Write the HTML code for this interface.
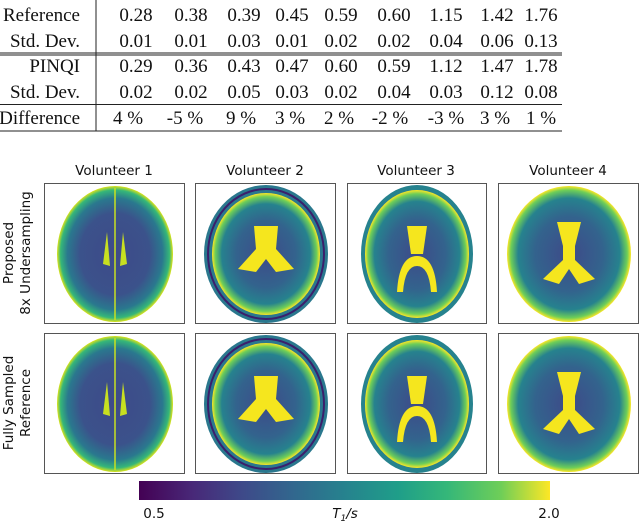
<!DOCTYPE html>
<html><head><style>
body{margin:0;background:#fff;width:640px;height:525px;overflow:hidden;position:relative}
svg{position:absolute;left:0;top:0}
</style></head><body>
<svg width="640" height="525" viewBox="0 0 640 525">
<defs>
<radialGradient id="br" cx="50%" cy="50%" r="50%">
<stop offset="0" stop-color="#3e4a89"/><stop offset="0.6" stop-color="#3b528b"/>
<stop offset="0.82" stop-color="#2a788e"/><stop offset="0.94" stop-color="#35b779"/><stop offset="1" stop-color="#dde318"/>
</radialGradient>
<radialGradient id="br2" cx="50%" cy="50%" r="50%">
<stop offset="0" stop-color="#3e4a89"/><stop offset="0.55" stop-color="#33638d"/>
<stop offset="0.82" stop-color="#26828e"/><stop offset="0.94" stop-color="#6ece58"/><stop offset="1" stop-color="#fde725"/>
</radialGradient>
<linearGradient id="cb" x1="0" x2="1">
<stop offset="0" stop-color="#440154"/><stop offset="0.13" stop-color="#482878"/><stop offset="0.25" stop-color="#3e4989"/>
<stop offset="0.38" stop-color="#31688e"/><stop offset="0.5" stop-color="#26828e"/><stop offset="0.63" stop-color="#1f9e89"/>
<stop offset="0.75" stop-color="#35b779"/><stop offset="0.88" stop-color="#6ece58"/><stop offset="1" stop-color="#fde725"/>
</linearGradient>
<g id="b1">
<ellipse cx="70" cy="70" rx="58" ry="68" fill="url(#br)"/>
<path d="M62 48 L58 80 L65 82 Z M78 48 L82 80 L75 82 Z" fill="#c8e020"/>
<line x1="70" y1="4" x2="70" y2="136" stroke="#c8e020" stroke-width="1.5"/>
</g>
<g id="b2">
<ellipse cx="70" cy="70" rx="62" ry="69" fill="#2a788e"/>
<ellipse cx="70" cy="70" rx="58" ry="65" fill="none" stroke="#3b1f6b" stroke-width="2"/>
<ellipse cx="70" cy="70" rx="54" ry="61" fill="url(#br2)"/>
<path d="M58 42 L82 42 L80 65 L98 85 L80 88 L70 75 L60 88 L42 85 L60 65 Z" fill="#f5e61e"/>
</g>
<g id="b3">
<ellipse cx="70" cy="70" rx="56" ry="69" fill="#26828e"/>
<ellipse cx="70" cy="70" rx="52" ry="64" fill="url(#br2)"/>
<path d="M60 42 L80 42 L76 70 L64 70 Z" fill="#f5e61e"/>
<path d="M50 108 Q52 72 70 72 Q88 72 90 108 L84 108 Q82 82 70 82 Q58 82 56 108 Z" fill="#f5e61e"/>
</g>
<g id="b4">
<ellipse cx="70" cy="70" rx="62" ry="68" fill="url(#br2)"/>
<path d="M58 38 L82 38 L76 62 L76 76 L96 95 L80 100 L70 85 L60 100 L44 95 L64 76 L64 62 Z" fill="#f5e61e"/>
</g>
</defs>
<g font-family="Liberation Serif, serif" font-size="19" fill="#111">
<text x="80" y="21" text-anchor="end">Reference</text>
<text x="80" y="47" text-anchor="end">Std. Dev.</text>
<text x="80" y="72" text-anchor="end">PINQI</text>
<text x="80" y="98" text-anchor="end">Std. Dev.</text>
<text x="80" y="124" text-anchor="end">Difference</text>
<g text-anchor="middle">
<text y="21"><tspan x="136">0.28</tspan><tspan x="191">0.38</tspan><tspan x="244">0.39</tspan><tspan x="292">0.45</tspan><tspan x="341">0.59</tspan><tspan x="394">0.60</tspan><tspan x="446">1.15</tspan><tspan x="497">1.42</tspan><tspan x="541">1.76</tspan></text>
<text y="47"><tspan x="136">0.01</tspan><tspan x="191">0.01</tspan><tspan x="244">0.03</tspan><tspan x="292">0.01</tspan><tspan x="341">0.02</tspan><tspan x="394">0.02</tspan><tspan x="446">0.04</tspan><tspan x="497">0.06</tspan><tspan x="541">0.13</tspan></text>
<text y="72"><tspan x="136">0.29</tspan><tspan x="191">0.36</tspan><tspan x="244">0.43</tspan><tspan x="292">0.47</tspan><tspan x="341">0.60</tspan><tspan x="394">0.59</tspan><tspan x="446">1.12</tspan><tspan x="497">1.47</tspan><tspan x="541">1.78</tspan></text>
<text y="98"><tspan x="136">0.02</tspan><tspan x="191">0.02</tspan><tspan x="244">0.05</tspan><tspan x="292">0.03</tspan><tspan x="341">0.02</tspan><tspan x="394">0.04</tspan><tspan x="446">0.03</tspan><tspan x="497">0.12</tspan><tspan x="541">0.08</tspan></text>
<text y="124"><tspan x="128">4 %</tspan><tspan x="185">-5 %</tspan><tspan x="241">9 %</tspan><tspan x="290">3 %</tspan><tspan x="339">2 %</tspan><tspan x="390">-2 %</tspan><tspan x="446">-3 %</tspan><tspan x="495">3 %</tspan><tspan x="541">1 %</tspan></text>
</g>
</g>
<g stroke="#222" stroke-width="1">
<line x1="96" y1="0" x2="96" y2="131"/>
<line x1="0" y1="53" x2="562" y2="53"/><line x1="0" y1="55" x2="562" y2="55"/>
<line x1="0" y1="104.5" x2="562" y2="104.5"/>
<line x1="0" y1="131" x2="562" y2="131"/>
</g>
<g font-family="DejaVu Sans, sans-serif" font-size="13.5" fill="#111" text-anchor="middle">
<text x="114" y="175">Volunteer 1</text><text x="265" y="175">Volunteer 2</text>
<text x="416" y="175">Volunteer 3</text><text x="568" y="175">Volunteer 4</text>
<text transform="translate(13,253) rotate(-90)">Proposed</text>
<text transform="translate(30,253) rotate(-90)">8x Undersampling</text>
<text transform="translate(13,403) rotate(-90)">Fully Sampled</text>
<text transform="translate(30,403) rotate(-90)">Reference</text>
<text x="154" y="518">0.5</text><text x="549" y="518">2.0</text>
<text x="345" y="518" font-style="italic">T<tspan font-size="9" dy="3">1</tspan><tspan dy="-3">/s</tspan></text>
</g>
<g fill="none" stroke="#555" stroke-width="1">
<rect x="44.5" y="183.5" width="140" height="140"/><rect x="195.5" y="183.5" width="140" height="140"/>
<rect x="347.5" y="183.5" width="139" height="140"/><rect x="498.5" y="183.5" width="140" height="140"/>
<rect x="44.5" y="333.5" width="140" height="140"/><rect x="195.5" y="333.5" width="140" height="140"/>
<rect x="347.5" y="333.5" width="139" height="140"/><rect x="498.5" y="333.5" width="140" height="140"/>
</g>
<use href="#b1" x="45" y="184"/><use href="#b2" x="196" y="184"/><use href="#b3" x="347" y="184"/><use href="#b4" x="499" y="184"/>
<use href="#b1" x="45" y="334"/><use href="#b2" x="196" y="334"/><use href="#b3" x="347" y="334"/><use href="#b4" x="499" y="334"/>
<rect x="139" y="481" width="411" height="19" fill="url(#cb)"/>
</svg>
</body></html>
